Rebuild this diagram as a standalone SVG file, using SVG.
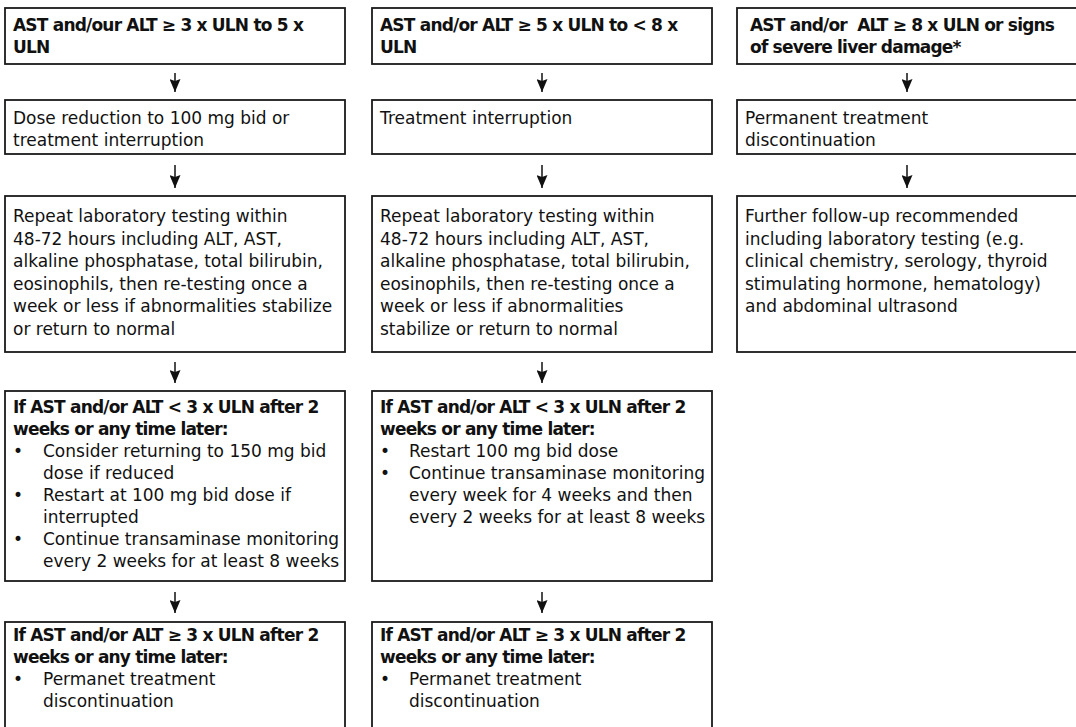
<svg xmlns="http://www.w3.org/2000/svg" width="1076" height="727" viewBox="0 0 1076 727">
<defs>
<style>
.box{fill:#fff;stroke:#1a1a1a;stroke-width:1.8}
.t{font-family:"DejaVu Sans","Liberation Sans",sans-serif;font-size:17px;fill:#111}
.b{font-weight:bold;letter-spacing:-0.8px}
.conn{stroke:#111;stroke-width:1.5;fill:none}
</style>
<marker id="ah" viewBox="0 0 13 11" refX="13" refY="5.5" markerWidth="13" markerHeight="11" markerUnits="userSpaceOnUse" orient="auto">
<path d="M0,0 L13,5.5 L0,11 L2,5.5 z" fill="#111"/>
</marker>
</defs>
<rect width="1076" height="727" fill="#fff"/>

<g id="connectors">
<path class="conn" d="M175,73 V92" marker-end="url(#ah)"/>
<path class="conn" d="M175,165 V188" marker-end="url(#ah)"/>
<path class="conn" d="M175,362 V383" marker-end="url(#ah)"/>
<path class="conn" d="M175,592 V613" marker-end="url(#ah)"/>
<path class="conn" d="M542,73 V92" marker-end="url(#ah)"/>
<path class="conn" d="M542,165 V188" marker-end="url(#ah)"/>
<path class="conn" d="M542,362 V383" marker-end="url(#ah)"/>
<path class="conn" d="M542,592 V613" marker-end="url(#ah)"/>
<path class="conn" d="M907,73 V92" marker-end="url(#ah)"/>
<path class="conn" d="M907,165 V188" marker-end="url(#ah)"/>
</g>

<g id="c1r1">
<rect class="box" x="5" y="8" width="340" height="56"/>
<text class="t b" x="13" y="31">AST and/our ALT ≥ 3 x ULN to 5 x</text>
<text class="t b" x="13" y="53">ULN</text>
</g>
<g id="c1r2">
<rect class="box" x="5" y="100" width="340" height="54"/>
<text class="t" x="13" y="124">Dose reduction to 100 mg bid or</text>
<text class="t" x="13" y="146">treatment interruption</text>
</g>
<g id="c1r3">
<rect class="box" x="5" y="196" width="340" height="156"/>
<text class="t" x="13" y="222">Repeat laboratory testing within</text>
<text class="t" x="13" y="244.5">48-72 hours including ALT, AST,</text>
<text class="t" x="13" y="267">alkaline phosphatase, total bilirubin,</text>
<text class="t" x="13" y="289.5">eosinophils, then re-testing once a</text>
<text class="t" x="13" y="312">week or less if abnormalities stabilize</text>
<text class="t" x="13" y="334.5">or return to normal</text>
</g>
<g id="c1r4">
<rect class="box" x="5" y="391" width="340" height="190"/>
<text class="t b" x="13" y="413">If AST and/or ALT &lt; 3 x ULN after 2</text>
<text class="t b" x="13" y="435">weeks or any time later:</text>
<text class="t" x="13" y="457">•</text>
<text class="t" x="43" y="457">Consider returning to 150 mg bid</text>
<text class="t" x="43" y="479">dose if reduced</text>
<text class="t" x="13" y="501">•</text>
<text class="t" x="43" y="501">Restart at 100 mg bid dose if</text>
<text class="t" x="43" y="523">interrupted</text>
<text class="t" x="13" y="545">•</text>
<text class="t" x="43" y="545">Continue transaminase monitoring</text>
<text class="t" x="43" y="567">every 2 weeks for at least 8 weeks</text>
</g>
<g id="c1r5">
<rect class="box" x="5" y="622" width="340" height="120"/>
<text class="t b" x="13" y="641">If AST and/or ALT ≥ 3 x ULN after 2</text>
<text class="t b" x="13" y="663">weeks or any time later:</text>
<text class="t" x="13" y="685">•</text>
<text class="t" x="43" y="685">Permanet treatment</text>
<text class="t" x="43" y="707">discontinuation</text>
</g>

<g id="c2r1">
<rect class="box" x="372" y="8" width="340" height="56"/>
<text class="t b" x="380" y="31">AST and/or ALT ≥ 5 x ULN to &lt; 8 x</text>
<text class="t b" x="380" y="53">ULN</text>
</g>
<g id="c2r2">
<rect class="box" x="372" y="100" width="340" height="54"/>
<text class="t" x="380" y="124">Treatment interruption</text>
</g>
<g id="c2r3">
<rect class="box" x="372" y="196" width="340" height="156"/>
<text class="t" x="380" y="222">Repeat laboratory testing within</text>
<text class="t" x="380" y="244.5">48-72 hours including ALT, AST,</text>
<text class="t" x="380" y="267">alkaline phosphatase, total bilirubin,</text>
<text class="t" x="380" y="289.5">eosinophils, then re-testing once a</text>
<text class="t" x="380" y="312">week or less if abnormalities</text>
<text class="t" x="380" y="334.5">stabilize or return to normal</text>
</g>
<g id="c2r4">
<rect class="box" x="372" y="391" width="340" height="190"/>
<text class="t b" x="380" y="413">If AST and/or ALT &lt; 3 x ULN after 2</text>
<text class="t b" x="380" y="435">weeks or any time later:</text>
<text class="t" x="380" y="457">•</text>
<text class="t" x="409" y="457">Restart 100 mg bid dose</text>
<text class="t" x="380" y="479">•</text>
<text class="t" x="409" y="479">Continue transaminase monitoring</text>
<text class="t" x="409" y="501">every week for 4 weeks and then</text>
<text class="t" x="409" y="523">every 2 weeks for at least 8 weeks</text>
</g>
<g id="c2r5">
<rect class="box" x="372" y="622" width="340" height="120"/>
<text class="t b" x="380" y="641">If AST and/or ALT ≥ 3 x ULN after 2</text>
<text class="t b" x="380" y="663">weeks or any time later:</text>
<text class="t" x="380" y="685">•</text>
<text class="t" x="409" y="685">Permanet treatment</text>
<text class="t" x="409" y="707">discontinuation</text>
</g>

<g id="c3r1">
<rect class="box" x="737" y="8" width="345" height="56"/>
<text class="t b" x="750" y="31" xml:space="preserve">AST and/or  ALT ≥ 8 x ULN or signs</text>
<text class="t b" x="750" y="53">of severe liver damage*</text>
</g>
<g id="c3r2">
<rect class="box" x="737" y="100" width="345" height="54"/>
<text class="t" x="745" y="124">Permanent treatment</text>
<text class="t" x="745" y="146">discontinuation</text>
</g>
<g id="c3r3">
<rect class="box" x="737" y="196" width="345" height="156"/>
<text class="t" x="745" y="222">Further follow-up recommended</text>
<text class="t" x="745" y="244.5">including laboratory testing (e.g.</text>
<text class="t" x="745" y="267">clinical chemistry, serology, thyroid</text>
<text class="t" x="745" y="289.5">stimulating hormone, hematology)</text>
<text class="t" x="745" y="312">and abdominal ultrasond</text>
</g>
</svg>
